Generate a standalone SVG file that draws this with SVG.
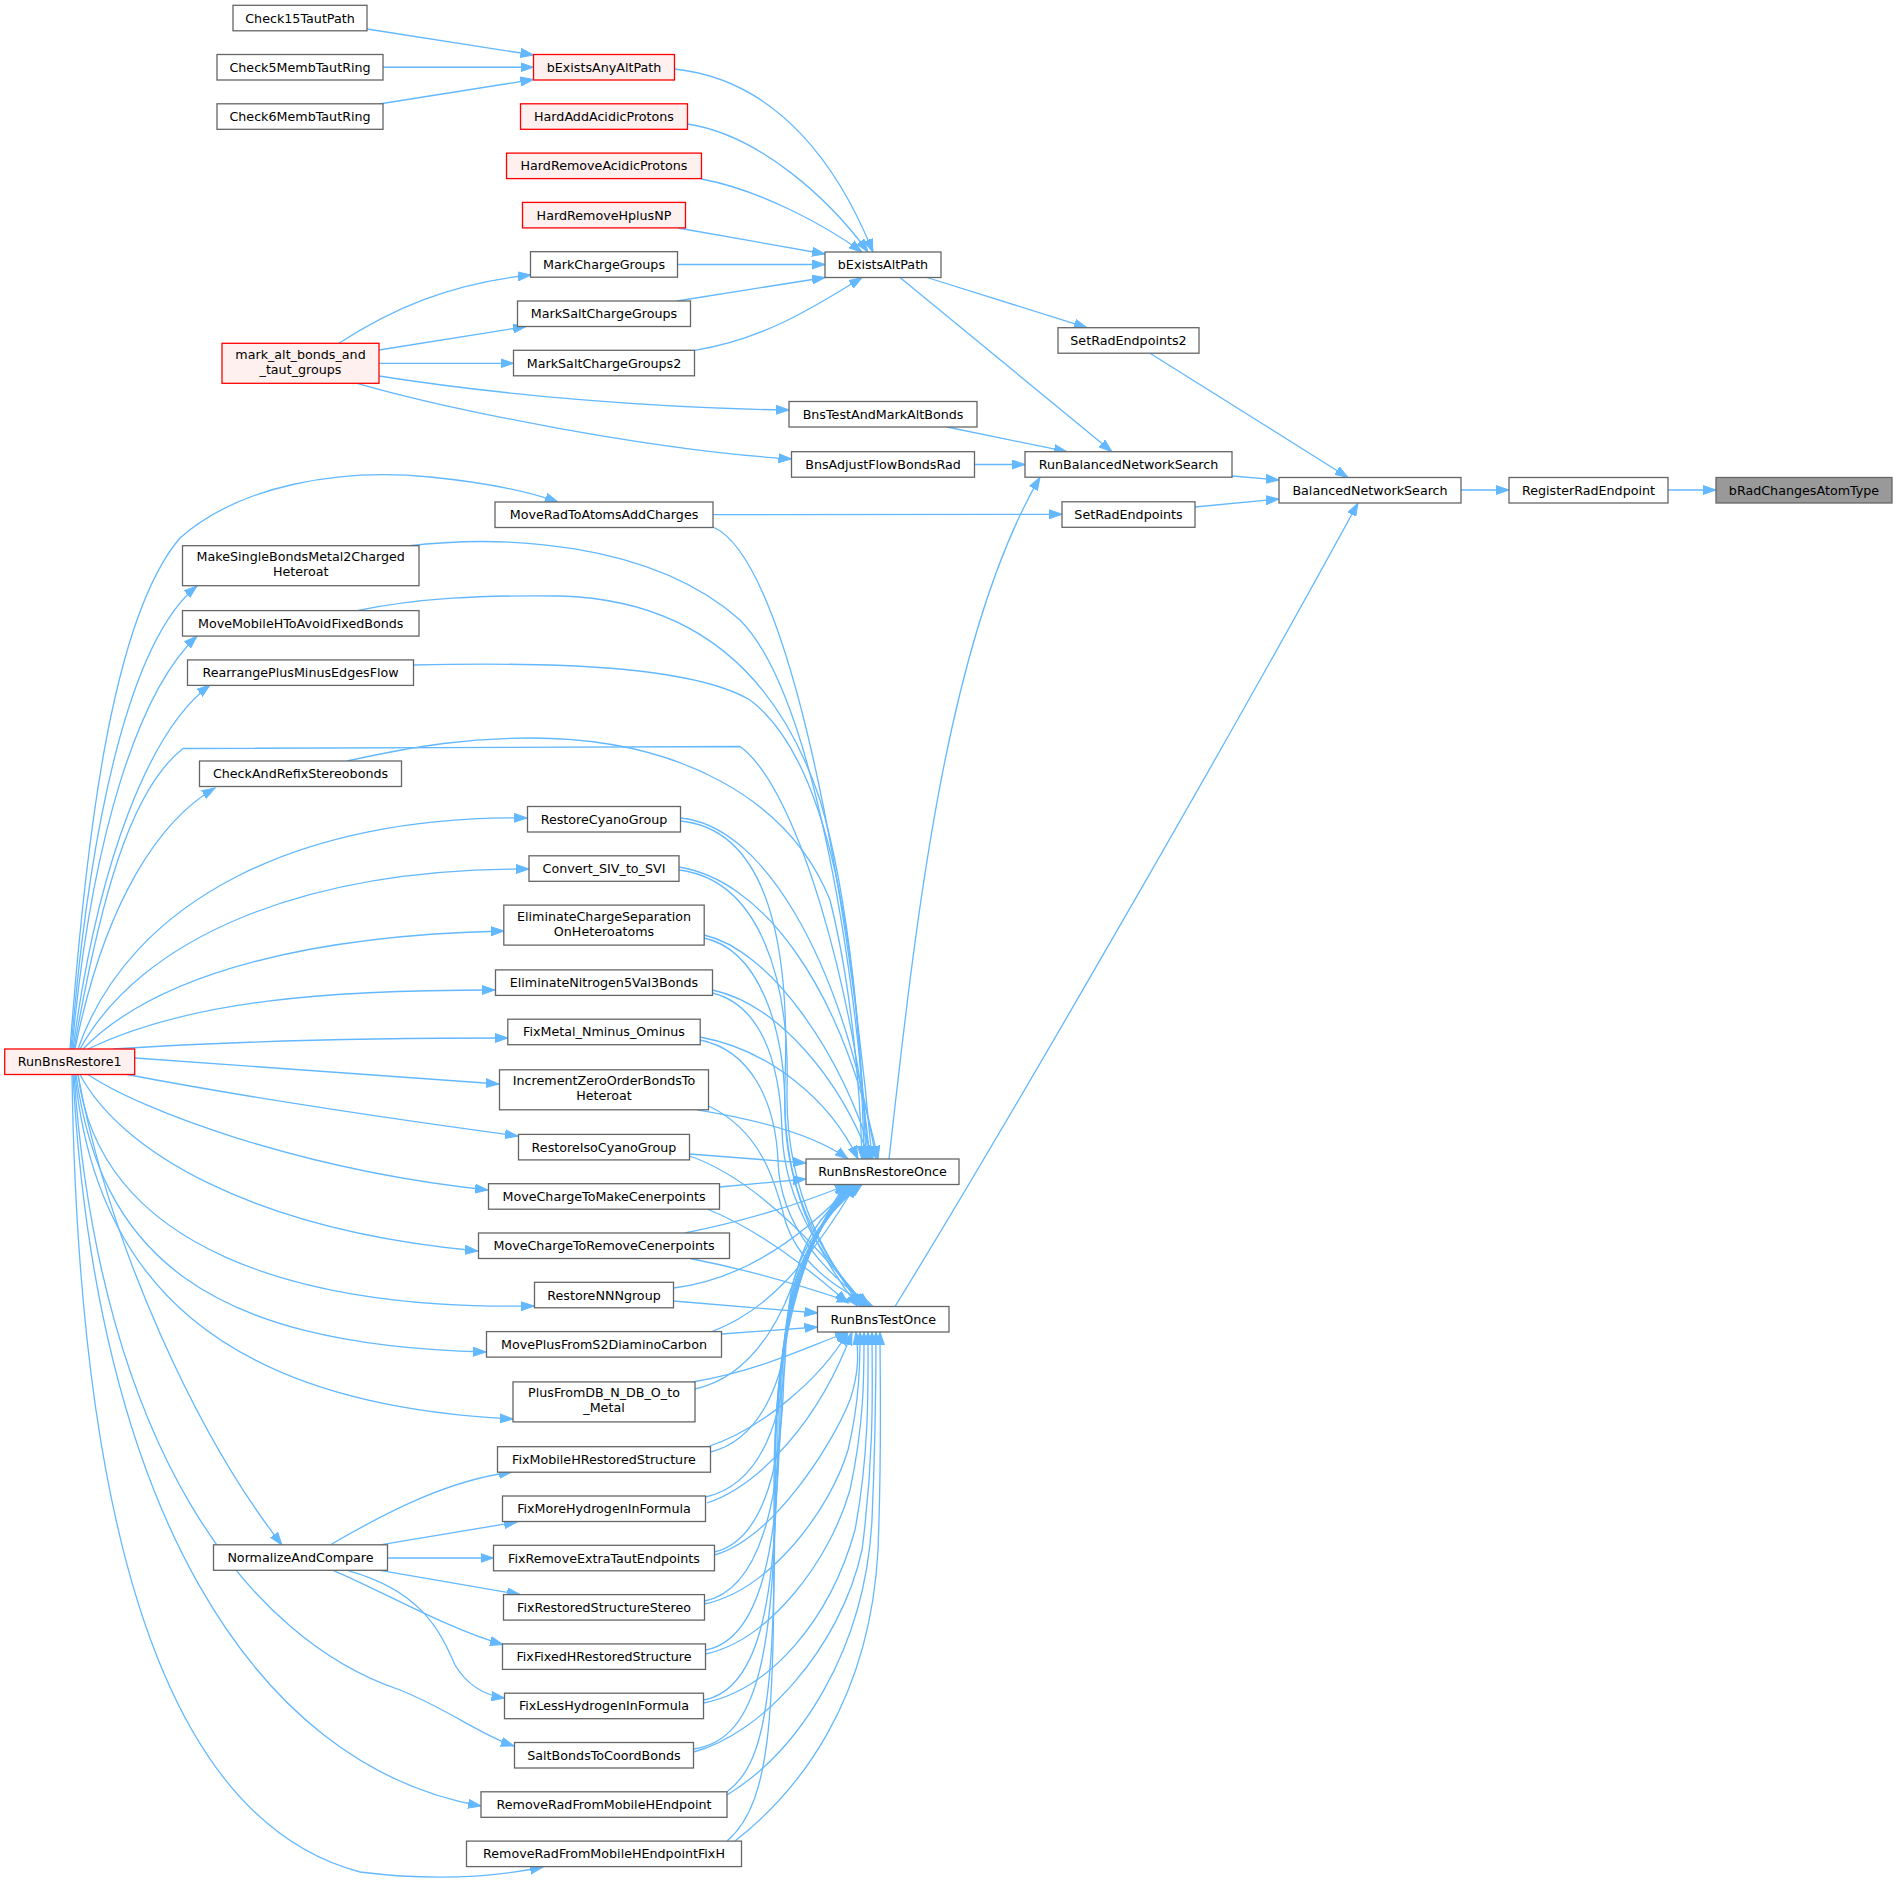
<svg xmlns="http://www.w3.org/2000/svg" width="1897" height="1884" viewBox="0 0 1897 1884">
<style>
.n rect{fill:#ffffff;stroke:#666666;stroke-width:1.3}
.r rect{fill:#fff0f0;stroke:#ff0000;stroke-width:1.3}
.g rect{fill:#999999;stroke:#666666;stroke-width:1.3}
text{font-family:"DejaVu Sans","Liberation Sans",sans-serif;font-size:12.7px;fill:#000000;text-anchor:middle}
.e path{fill:none;stroke:#63b8ff;stroke-width:1.3;marker-end:url(#ah)}
</style>
<defs>
<marker id="ah" markerUnits="userSpaceOnUse" markerWidth="14" markerHeight="10" refX="13" refY="5" orient="auto">
<path d="M0,0.5 L13,5 L0,9.5 z" fill="#63b8ff" stroke="#63b8ff" stroke-width="1"/>
</marker>
</defs>
<rect x="0" y="0" width="1897" height="1884" fill="#ffffff"/>
<g id="edges" class="e">
<path d="M1668,490 L1716,490"/>
<path d="M1461,490 L1509,490"/>
<path d="M1150,353.2 L1348,477.5"/>
<path d="M1232,476 L1279,480"/>
<path d="M1195,507 L1279,499"/>
<path d="M895,1306.5 C1010,1120 1240,720 1358,503"/>
<path d="M927,277.5 L1087,327.7"/>
<path d="M900,277.5 L1112,451.7"/>
<path d="M947,427 L1067,451.7"/>
<path d="M974.5,464.5 L1025,464.5"/>
<path d="M889,1159 C915,930 945,640 1040,477.2"/>
<path d="M713,514.6 L1062,514.3"/>
<path d="M367,29 L533.5,55"/>
<path d="M383,67.25 L533.5,67.25"/>
<path d="M379,104 L533.5,79.5"/>
<path d="M339,343.3 C390,310 450,283 531,275"/>
<path d="M379,350 L526,326.5"/>
<path d="M379,363.3 L513.5,363.3"/>
<path d="M379,376 C500,395 650,408 789,410"/>
<path d="M357,383.3 C450,410 650,450 791.5,459"/>
<path d="M674.5,69 C780,80 840,170 873,252"/>
<path d="M687.5,124 C760,135 830,200 868,252"/>
<path d="M701.5,179 C760,190 825,225 862,252"/>
<path d="M678,228 L825,254"/>
<path d="M677.5,264.5 L825,264.5"/>
<path d="M677,301 L825,277.5"/>
<path d="M694.5,350.3 C760,340 810,310 862,277.5"/>
<path d="M70,1049 C85,850 110,620 180,538 C240,485 340,468 430,477 C490,483 530,492 558,502"/>
<path d="M71,1049 C90,820 130,640 197,586"/>
<path d="M72,1049 C92,830 140,690 197,636"/>
<path d="M73,1049 C98,860 150,730 210,685"/>
<path d="M74,1049 C100,900 130,790 183,748.5 L740,746.5 C800,790 855,1000 870,1159"/>
<path d="M75,1049 C105,900 160,820 215,788"/>
<path d="M78,1049 C130,900 300,815 527,818"/>
<path d="M80,1049 C140,940 300,868 529,869"/>
<path d="M83,1049 C160,970 320,935 504,931"/>
<path d="M88,1049 C190,1000 330,990 495,990"/>
<path d="M113,1049 C250,1040 400,1038 508,1038"/>
<path d="M135,1058 L499,1084"/>
<path d="M127,1074.5 C250,1098 400,1120 518,1136"/>
<path d="M88,1074.5 C140,1110 300,1170 488,1190"/>
<path d="M80,1074.5 C120,1150 250,1230 478,1251"/>
<path d="M78,1074.5 C100,1250 300,1310 534,1306"/>
<path d="M76,1074.5 C100,1250 200,1345 486,1352"/>
<path d="M75,1074.5 C95,1280 220,1405 513,1419"/>
<path d="M78,1074.5 C110,1250 200,1440 282,1545"/>
<path d="M74,1074.5 C100,1450 250,1640 400,1690 C450,1710 480,1735 514,1746"/>
<path d="M73,1074.5 C95,1500 250,1765 481,1806"/>
<path d="M72,1074.5 C80,1620 200,1830 360,1872 C440,1882 500,1876 543,1867"/>
<path d="M330,1545 C390,1510 450,1480 512,1472"/>
<path d="M380,1544.8 L517,1522"/>
<path d="M387.5,1558 L493.5,1558"/>
<path d="M380,1570.3 L520,1594.6"/>
<path d="M333,1570.3 C380,1590 450,1630 503,1644.5"/>
<path d="M347,1570.3 C420,1590 440,1630 455,1665 C470,1690 490,1696 504.5,1698"/>
<path d="M713,527 C790,560 850,900 872,1159"/>
<path d="M407,546 C500,535 650,540 740,620 C810,690 855,950 868,1159"/>
<path d="M357,610.6 C420,598 480,595 560,596 C700,600 780,680 820,800 C850,900 862,1050 866,1159"/>
<path d="M413.5,665 C550,662 690,665 750,700 C830,760 860,950 864,1159"/>
<path d="M347,761 C420,745 470,738 530,738 C680,738 790,800 830,900 C850,980 860,1080 862,1159"/>
<path d="M680.5,818 C760,825 840,950 876,1159"/>
<path d="M679,867 C760,880 840,980 878,1159"/>
<path d="M704,935 C770,950 840,1050 873,1159"/>
<path d="M712.5,990 C780,1005 840,1080 870,1159"/>
<path d="M700,1037 C770,1050 830,1100 858,1159"/>
<path d="M697,1109.8 C760,1120 815,1135 848,1159"/>
<path d="M680.5,821 C770,830 790,950 785,1080 C780,1200 830,1270 858,1306.5"/>
<path d="M679,870 C760,880 790,980 787,1090 C785,1200 835,1270 861,1306.5"/>
<path d="M704,938 C760,950 785,1030 785,1110 C785,1210 840,1275 864,1306.5"/>
<path d="M712.5,993 C760,1005 780,1060 782,1130 C784,1220 845,1280 867,1306.5"/>
<path d="M700,1040 C750,1050 775,1100 778,1160 C780,1240 845,1285 870,1306.5"/>
<path d="M708.5,1106 C760,1130 775,1180 785,1220 C800,1270 850,1295 873,1306.5"/>
<path d="M689.5,1154 L806,1163"/>
<path d="M689.5,1156 C760,1180 830,1260 864,1306.5"/>
<path d="M719.5,1187 L806,1179"/>
<path d="M707,1209 C760,1230 810,1270 848,1303"/>
<path d="M685,1233 C750,1220 810,1200 848,1184.5"/>
<path d="M690,1258.5 C750,1270 800,1285 850,1302"/>
<path d="M673.5,1288 C740,1280 800,1240 852,1184.5"/>
<path d="M673.5,1301 L817.5,1313"/>
<path d="M712,1331.6 C770,1310 810,1260 856,1184.5"/>
<path d="M721.5,1334 L817.5,1327"/>
<path d="M695,1389 C760,1375 790,1300 800,1260 C815,1215 845,1195 860,1184.5"/>
<path d="M693,1382 C760,1370 800,1350 848,1332"/>
<path d="M710.5,1452 C760,1440 785,1380 788,1320 C790,1250 830,1210 862,1184.5"/>
<path d="M705.5,1497 C760,1485 785,1420 786,1340 C788,1260 830,1210 860,1184.5"/>
<path d="M714.5,1552 C765,1540 784,1460 784,1360 C785,1260 828,1212 858,1184.5"/>
<path d="M704.5,1601 C760,1590 782,1500 782,1380 C783,1270 826,1214 856,1184.5"/>
<path d="M705.5,1650 C760,1640 780,1550 780,1400 C781,1280 824,1216 854,1184.5"/>
<path d="M703.5,1700 C760,1690 778,1600 778,1420 C779,1290 822,1218 852,1184.5"/>
<path d="M693.5,1749 C760,1740 776,1650 776,1440 C777,1300 820,1220 850,1184.5"/>
<path d="M727,1791.8 C770,1760 775,1680 775,1460 C775,1310 818,1222 848,1184.5"/>
<path d="M727,1841.1 C775,1800 774,1700 774,1480 C774,1320 816,1224 846,1184.5"/>
<path d="M707,1447 C760,1430 820,1380 848,1332"/>
<path d="M707,1503 C760,1485 820,1420 852,1332"/>
<path d="M714.5,1555 C770,1540 830,1450 850,1400 C860,1370 858,1350 856,1332"/>
<path d="M704.5,1604 C770,1590 830,1510 848,1450 C860,1400 860,1360 860,1332"/>
<path d="M705.5,1654 C770,1640 830,1560 850,1490 C865,1420 864,1370 864,1332"/>
<path d="M703.5,1703 C770,1690 830,1620 855,1530 C870,1450 868,1380 868,1332"/>
<path d="M693.5,1752 C760,1735 840,1650 862,1550 C875,1450 872,1380 872,1332"/>
<path d="M727,1795 C800,1750 865,1650 872,1520 C876,1430 876,1380 876,1332"/>
<path d="M735,1841.1 C800,1790 870,1700 878,1550 C882,1450 880,1380 880,1332"/>
</g>
<g id="node1" class="g"><rect x="1716" y="477.5" width="176" height="25.5"/><text x="1804" y="494.7">bRadChangesAtomType</text></g>
<g id="node2" class="n"><rect x="1509" y="477.5" width="159" height="25.5"/><text x="1588.5" y="494.7">RegisterRadEndpoint</text></g>
<g id="node3" class="n"><rect x="1279" y="477.5" width="182" height="25.5"/><text x="1370" y="494.7">BalancedNetworkSearch</text></g>
<g id="node4" class="n"><rect x="1058" y="327.7" width="141" height="25.5"/><text x="1128.5" y="345">SetRadEndpoints2</text></g>
<g id="node5" class="n"><rect x="1025" y="451.7" width="207" height="25.5"/><text x="1128.5" y="469">RunBalancedNetworkSearch</text></g>
<g id="node6" class="n"><rect x="1062" y="501.8" width="133" height="25.5"/><text x="1128.5" y="519">SetRadEndpoints</text></g>
<g id="node7" class="n"><rect x="825" y="252" width="116" height="25.5"/><text x="883" y="269.2">bExistsAltPath</text></g>
<g id="node8" class="n"><rect x="789" y="401.5" width="188" height="25.5"/><text x="883" y="418.7">BnsTestAndMarkAltBonds</text></g>
<g id="node9" class="n"><rect x="791.5" y="451.7" width="183" height="25.5"/><text x="883" y="469">BnsAdjustFlowBondsRad</text></g>
<g id="node10" class="n"><rect x="495" y="502" width="218" height="25.5"/><text x="604" y="519.2">MoveRadToAtomsAddCharges</text></g>
<g id="node11" class="r"><rect x="533.5" y="54.5" width="141" height="25.5"/><text x="604" y="71.7">bExistsAnyAltPath</text></g>
<g id="node12" class="n"><rect x="233" y="5.3" width="134" height="25.5"/><text x="300" y="22.5">Check15TautPath</text></g>
<g id="node13" class="n"><rect x="217" y="54.5" width="166" height="25.5"/><text x="300" y="71.7">Check5MembTautRing</text></g>
<g id="node14" class="n"><rect x="217" y="103.8" width="166" height="25.5"/><text x="300" y="121">Check6MembTautRing</text></g>
<g id="node15" class="r"><rect x="520.5" y="103.8" width="167" height="25.5"/><text x="604" y="121">HardAddAcidicProtons</text></g>
<g id="node16" class="r"><rect x="506.5" y="153.1" width="195" height="25.5"/><text x="604" y="170.3">HardRemoveAcidicProtons</text></g>
<g id="node17" class="r"><rect x="522.5" y="202.4" width="163" height="25.5"/><text x="604" y="219.6">HardRemoveHplusNP</text></g>
<g id="node18" class="n"><rect x="530.5" y="251.7" width="147" height="25.5"/><text x="604" y="268.9">MarkChargeGroups</text></g>
<g id="node19" class="n"><rect x="517.5" y="301" width="173" height="25.5"/><text x="604" y="318.2">MarkSaltChargeGroups</text></g>
<g id="node20" class="n"><rect x="513.5" y="350.3" width="181" height="25.5"/><text x="604" y="367.5">MarkSaltChargeGroups2</text></g>
<g id="node21" class="r"><rect x="222" y="343.3" width="157" height="40"/><text x="300.5" y="358.8">mark_alt_bonds_and</text><text x="300.5" y="373.8">_taut_groups</text></g>
<g id="node22" class="n"><rect x="182.5" y="545.7" width="236.5" height="40"/><text x="300.75" y="561.2">MakeSingleBondsMetal2Charged</text><text x="300.75" y="576.2">Heteroat</text></g>
<g id="node23" class="n"><rect x="182.5" y="610.6" width="236.5" height="25.5"/><text x="300.75" y="627.8">MoveMobileHToAvoidFixedBonds</text></g>
<g id="node24" class="n"><rect x="187.5" y="659.9" width="226" height="25.5"/><text x="300.5" y="677.1">RearrangePlusMinusEdgesFlow</text></g>
<g id="node25" class="n"><rect x="199.5" y="761" width="202" height="25.5"/><text x="300.5" y="778.2">CheckAndRefixStereobonds</text></g>
<g id="node26" class="n"><rect x="527.5" y="806.5" width="153" height="25.5"/><text x="604" y="823.7">RestoreCyanoGroup</text></g>
<g id="node27" class="n"><rect x="529" y="855.8" width="150" height="25.5"/><text x="604" y="873">Convert_SIV_to_SVI</text></g>
<g id="node28" class="n"><rect x="503.8" y="905.1" width="200.4" height="40"/><text x="604" y="920.6">EliminateChargeSeparation</text><text x="604" y="935.6">OnHeteroatoms</text></g>
<g id="node29" class="n"><rect x="495.5" y="969.9" width="217" height="25.5"/><text x="604" y="987.1">EliminateNitrogen5Val3Bonds</text></g>
<g id="node30" class="n"><rect x="507.8" y="1019.2" width="192.4" height="25.5"/><text x="604" y="1036.4">FixMetal_Nminus_Ominus</text></g>
<g id="node31" class="n"><rect x="499.5" y="1069.8" width="209" height="40"/><text x="604" y="1085.3">IncrementZeroOrderBondsTo</text><text x="604" y="1100.3">Heteroat</text></g>
<g id="node32" class="n"><rect x="518.5" y="1134.4" width="171" height="25.5"/><text x="604" y="1151.6">RestoreIsoCyanoGroup</text></g>
<g id="node33" class="n"><rect x="488.5" y="1183.7" width="231" height="25.5"/><text x="604" y="1200.9">MoveChargeToMakeCenerpoints</text></g>
<g id="node34" class="n"><rect x="478.5" y="1233" width="251" height="25.5"/><text x="604" y="1250.2">MoveChargeToRemoveCenerpoints</text></g>
<g id="node35" class="n"><rect x="534.5" y="1282.3" width="139" height="25.5"/><text x="604" y="1299.5">RestoreNNNgroup</text></g>
<g id="node36" class="n"><rect x="486.5" y="1331.6" width="235" height="25.5"/><text x="604" y="1348.8">MovePlusFromS2DiaminoCarbon</text></g>
<g id="node37" class="n"><rect x="513" y="1381.9" width="182" height="40"/><text x="604" y="1397.4">PlusFromDB_N_DB_O_to</text><text x="604" y="1412.4">_Metal</text></g>
<g id="node38" class="n"><rect x="497.5" y="1446.7" width="213" height="25.5"/><text x="604" y="1463.9">FixMobileHRestoredStructure</text></g>
<g id="node39" class="n"><rect x="502.5" y="1496" width="203" height="25.5"/><text x="604" y="1513.2">FixMoreHydrogenInFormula</text></g>
<g id="node40" class="n"><rect x="493.5" y="1545.3" width="221" height="25.5"/><text x="604" y="1562.5">FixRemoveExtraTautEndpoints</text></g>
<g id="node41" class="n"><rect x="503.5" y="1594.6" width="201" height="25.5"/><text x="604" y="1611.8">FixRestoredStructureStereo</text></g>
<g id="node42" class="n"><rect x="502.5" y="1643.9" width="203" height="25.5"/><text x="604" y="1661.1">FixFixedHRestoredStructure</text></g>
<g id="node43" class="n"><rect x="504.5" y="1693.2" width="199" height="25.5"/><text x="604" y="1710.4">FixLessHydrogenInFormula</text></g>
<g id="node44" class="n"><rect x="514.5" y="1742.5" width="179" height="25.5"/><text x="604" y="1759.7">SaltBondsToCoordBonds</text></g>
<g id="node45" class="n"><rect x="481" y="1791.8" width="246" height="25.5"/><text x="604" y="1809">RemoveRadFromMobileHEndpoint</text></g>
<g id="node46" class="n"><rect x="466.5" y="1841.1" width="275" height="25.5"/><text x="604" y="1858.3">RemoveRadFromMobileHEndpointFixH</text></g>
<g id="node47" class="n"><rect x="806" y="1159" width="153" height="25.5"/><text x="882.5" y="1176.2">RunBnsRestoreOnce</text></g>
<g id="node48" class="n"><rect x="817.5" y="1306.5" width="131.5" height="25.5"/><text x="883.25" y="1323.7">RunBnsTestOnce</text></g>
<g id="node49" class="r"><rect x="4.7" y="1049" width="130" height="25.5"/><text x="69.7" y="1066.2">RunBnsRestore1</text></g>
<g id="node50" class="n"><rect x="213.5" y="1544.8" width="174" height="25.5"/><text x="300.5" y="1562">NormalizeAndCompare</text></g>
</svg>
